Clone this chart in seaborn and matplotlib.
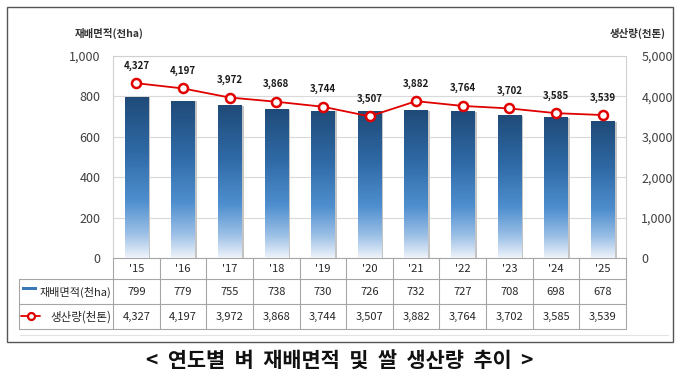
import numpy as np
import pandas as pd
import seaborn as sns
import matplotlib.pyplot as plt
from matplotlib.patches import Rectangle
from matplotlib.lines import Line2D
from matplotlib.colors import LinearSegmentedColormap
from matplotlib.ticker import FuncFormatter

# data
years = ["'15", "'16", "'17", "'18", "'19", "'20", "'21", "'22", "'23", "'24", "'25"]
area = [799, 779, 755, 738, 730, 726, 732, 727, 708, 698, 678]          # 천ha
production = [4327, 4197, 3972, 3868, 3744, 3507, 3882, 3764, 3702, 3585, 3539]  # 천톤
area_label = '재배면적(천ha)'
prod_label = '생산량(천톤)'
title = '<  연도별  벼  재배면적  및  쌀  생산량  추이  >'

df = pd.DataFrame({'year': years, 'area': area, 'production': production})

sns.set_style('white')
plt.rcParams['font.family'] = ['Noto Sans CJK KR', 'DejaVu Sans']

W, H = 680, 385
def fx(px):
    return px / W
def fy(py):
    return 1 - py / H

fig = plt.figure(figsize=(6.8, 3.85), dpi=100)
ax = fig.add_axes([fx(113), fy(258), (626 - 113) / W, (258 - 56) / H])

# bars with vertical gradient
sns.barplot(data=df, x='year', y='area', ax=ax, width=0.5, color='#2e6aa6', zorder=3)
cmap = LinearSegmentedColormap.from_list('bar', [(0, '#1f4a78'), (0.35, '#2f6aa6'), (0.65, '#4f8fcf'),
                                                 (0.85, '#9cc0e6'), (1, '#eef3fa')])
grad = np.linspace(0, 1, 256).reshape(-1, 1)
for p in ax.patches:
    x0, w, h = p.get_x(), p.get_width(), p.get_height()
    ax.add_patch(Rectangle((x0 + w, 0), 0.05, h - 3, color='#c4c4c4', zorder=2, lw=0))
    im = ax.imshow(grad, cmap=cmap, aspect='auto', extent=[x0, x0 + w, 0, h],
                   origin='upper', zorder=3)
    im.set_clip_path(p)
    p.set_facecolor('none')
    p.set_edgecolor('none')

ax.set_xlim(-0.5, len(years) - 0.5)
ax.set_ylim(0, 1000)
ax.set_yticks(range(0, 1001, 200))
ax.yaxis.set_major_formatter(FuncFormatter(lambda v, _: f'{int(v):,}'))
ax.set_xticks([])
ax.set_xlabel('')
ax.set_ylabel('')
ax.tick_params(axis='y', length=0, pad=9, labelsize=9, labelcolor='#404040')
ax.grid(axis='y', color='#d9d9d9', lw=0.8, zorder=0)
ax.set_axisbelow(True)
for s in ['left', 'top', 'right']:
    ax.spines[s].set_color('#d0d0d0')
    ax.spines[s].set_linewidth(0.8)
ax.spines['bottom'].set_color('#a6a6a6')

# production line
ax2 = ax.twinx()
xs = np.arange(len(years))
sns.lineplot(x=xs, y=production, ax=ax2, color='#e00000', lw=1.3, marker='o',
             markersize=6.5, markerfacecolor='white', markeredgecolor='#e00000',
             markeredgewidth=1.8, zorder=5)
for x, v in zip(xs, production):
    ax2.annotate(f'{v:,}', (x, v), xytext=(0, 9), textcoords='offset points',
                 ha='center', va='bottom', fontsize=7, fontweight='bold', color='#1a1a1a')
ax2.set_ylim(0, 5000)
ax2.set_yticks(range(0, 5001, 1000))
ax2.yaxis.set_major_formatter(FuncFormatter(lambda v, _: f'{int(v):,}'))
ax2.tick_params(axis='y', length=0, pad=11, labelsize=9, labelcolor='#404040')
ax2.set_ylabel('')
for s in ax2.spines.values():
    s.set_visible(False)

# axis titles
fig.text(fx(75), fy(33), area_label, fontsize=7.5, fontweight='bold', color='#333333', va='center', ha='left')
fig.text(fx(666), fy(33), prod_label, fontsize=7.5, fontweight='bold', color='#333333', va='center', ha='right')

# data table under the chart, drawn in its own axes
# x in bar-index units (same as the chart), y in pixels downward
col_w = (626 - 113) / len(years)
label_w = (113 - 19) / col_w
tab = fig.add_axes([fx(19), fy(329), (626 - 19) / W, (329 - 258) / H])
tab.set_xlim(-0.5 - label_w, len(years) - 0.5)
tab.set_ylim(71, 0)
tab.axis('off')
grid_c = '#a6a6a6'
left = -0.5 - label_w
right = len(years) - 0.5
for yy in [21, 46, 71]:
    tab.plot([left, right], [yy, yy], color=grid_c, lw=0.8, clip_on=False)
for k in range(len(years) + 1):
    tab.plot([k - 0.5, k - 0.5], [0, 71], color=grid_c, lw=0.8, clip_on=False)
tab.plot([left, left], [21, 71], color=grid_c, lw=0.8, clip_on=False)
for i, (yr, a, pr) in enumerate(zip(years, area, production)):
    tab.text(i, 11, yr, ha='center', va='center', fontsize=8, color='#262626')
    tab.text(i, 34, f'{a:,}', ha='center', va='center', fontsize=8, color='#262626')
    tab.text(i, 59, f'{pr:,}', ha='center', va='center', fontsize=8, color='#262626')
tab.text(-0.54, 34, area_label, ha='right', va='center', fontsize=8, color='#262626')
tab.text(-0.54, 59, prod_label, ha='right', va='center', fontsize=8.3, color='#262626')

# legend keys in row labels
fig.add_artist(Rectangle((fx(22), fy(290)), (37 - 22) / W, 3 / H, transform=fig.transFigure,
                         facecolor='#3b78b8', edgecolor='none'))
fig.add_artist(Line2D([fx(21), fx(40)], [fy(316), fy(316)], color='#e00000', lw=1.3,
                      transform=fig.transFigure))
fig.add_artist(Line2D([fx(30.5)], [fy(316)], marker='o', markersize=5, markerfacecolor='white',
                      markeredgecolor='#e00000', markeredgewidth=1.6, transform=fig.transFigure))

# outer frame and faint baseline
fig.add_artist(Line2D([fx(20), fx(668)], [fy(335), fy(335)], color='#e3e3e3', lw=0.8,
                      transform=fig.transFigure))
fig.add_artist(Rectangle((fx(7), fy(342)), (673 - 7) / W, (342 - 7) / H, transform=fig.transFigure,
                         facecolor='none', edgecolor='#555555', lw=1))

fig.text(0.5, fy(361), title, ha='center', va='center', fontsize=15, fontweight='bold', color='#111111')

fig.savefig('out.png', dpi=100)
